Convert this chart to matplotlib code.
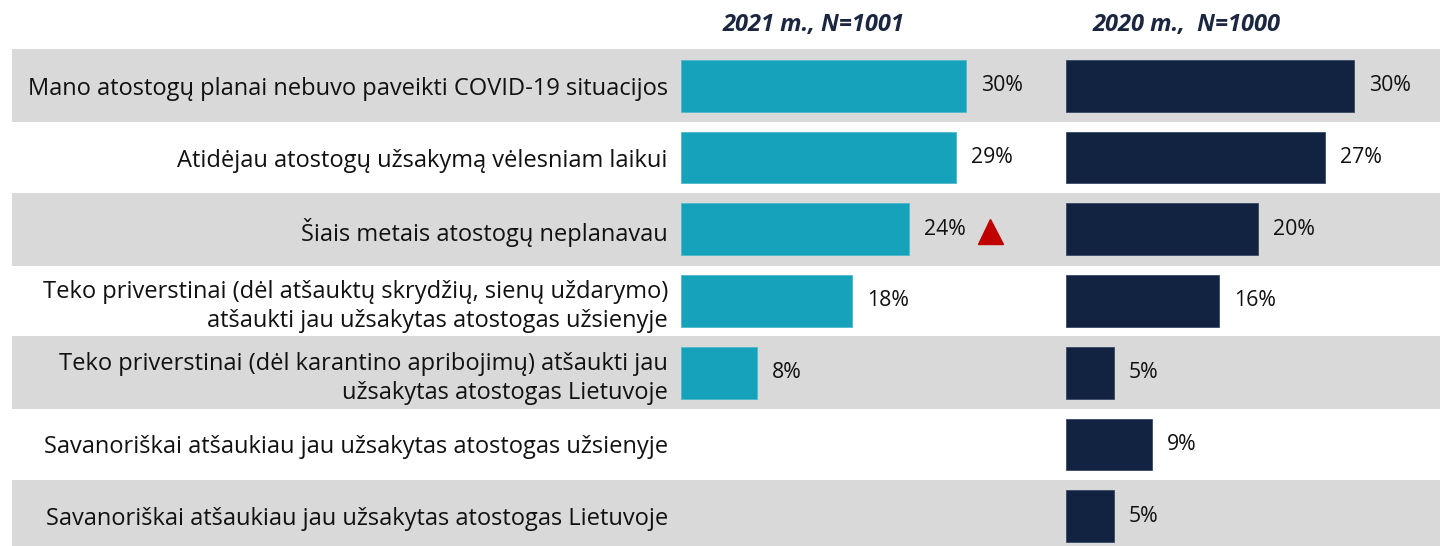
import matplotlib
matplotlib.use("Agg")
import matplotlib.pyplot as plt
from matplotlib.transforms import ScaledTranslation

plt.rcParams['font.family'] = ['Open Sans', 'DejaVu Sans']

categories = [
    "Mano atostogų planai nebuvo paveikti COVID-19 situacijos",
    "Atidėjau atostogų užsakymą vėlesniam laikui",
    "Šiais metais atostogų neplanavau",
    "Teko priverstinai (dėl atšauktų skrydžių, sienų uždarymo)\natšaukti jau užsakytas atostogas užsienyje",
    "Teko priverstinai (dėl karantino apribojimų) atšaukti jau\nužsakytas atostogas Lietuvoje",
    "Savanoriškai atšaukiau jau užsakytas atostogas užsienyje",
    "Savanoriškai atšaukiau jau užsakytas atostogas Lietuvoje",
]
values_2021 = [30, 29, 24, 18, 8, None, None]
values_2020 = [30, 27, 20, 16, 5, 9, 5]
significant_up_2021 = [False, False, True, False, False, False, False]
title_2021 = "2021 m., N=1001"
title_2020 = "2020 m.,  N=1000"

TEAL = "#16A2BA"
NAVY = "#112340"
GREY = "#D9D9D9"
TXT = "#111111"

W, H = 1440, 546
fig = plt.figure(figsize=(W / 100, H / 100), dpi=100)

pitch = 71.73
row0 = 85.8
top_px = 40
ytop = (top_px - row0) / pitch
ybot = (H - row0) / pitch
ax_h = (H - top_px) / H

rows = list(range(len(categories)))

# background bands
ax_bg = fig.add_axes([12 / W, 0, 1 - 12 / W, ax_h])
ax_bg.set_xlim(0, 1)
ax_bg.set_ylim(ybot, ytop)
for r in rows:
    if r % 2 == 0:
        ax_bg.axhspan(r - 0.509, r + 0.509, color=GREY, lw=0)
ax_bg.axis("off")

scale_l = 9.49
scale_r = 9.6
ax_l = fig.add_axes([681 / W, 0, 40 * scale_l / W, ax_h])
ax_r = fig.add_axes([1065.5 / W, 0, 38 * scale_r / W, ax_h])
ax_l.set_xlim(0, 40)
ax_r.set_xlim(0, 38)

for ax in (ax_l, ax_r):
    ax.set_facecolor("none")
    ax.set_ylim(ybot, ytop)
    for s in ax.spines.values():
        s.set_visible(False)
    ax.tick_params(axis="x", bottom=False, labelbottom=False)
    ax.tick_params(axis="y", length=0)

CAT = 17
VAL = 15.3

# left bars
rl = [r for r, v in zip(rows, values_2021) if v is not None]
vl = [v for v in values_2021 if v is not None]
ax_l.barh(rl, vl, height=0.72, color=TEAL, edgecolor="#4FB8CC", linewidth=0.6)
for r, v in zip(rl, vl):
    ax_l.annotate(f"{v}%", (v, r), xytext=(11, 0), textcoords="offset points",
                  ha="left", va="center", fontsize=VAL, color=TXT)
for r, v, sig in zip(rows, values_2021, significant_up_2021):
    if sig and v is not None:
        ax_l.plot([v], [r], marker="^", markersize=18, color="#C00000", lw=0,
                  transform=ax_l.transData + ScaledTranslation(0.81, -0.02, fig.dpi_scale_trans))

ax_r.barh(rows, values_2020, height=0.72, color=NAVY, edgecolor="#3A4A66", linewidth=0.6)
for r, v in zip(rows, values_2020):
    ax_r.annotate(f"{v}%", (v, r), xytext=(11, 0), textcoords="offset points",
                  ha="left", va="center", fontsize=VAL, color=TXT)

ax_l.set_yticks(rows)
ax_l.set_yticklabels(categories, fontsize=CAT, color=TXT)
ax_l.tick_params(axis="y", pad=9.5)
for lab in ax_l.get_yticklabels():
    lab.set_linespacing(1.3)
ax_r.set_yticks([])

fig.text(814 / W, 1 - 25 / H, title_2021, ha="center", va="center", fontsize=17,
         fontweight="bold", fontstyle="italic", color="#1B2640")
fig.text(1187 / W, 1 - 25 / H, title_2020, ha="center", va="center", fontsize=17,
         fontweight="bold", fontstyle="italic", color="#1B2640")

fig.savefig("out.png", dpi=100)
